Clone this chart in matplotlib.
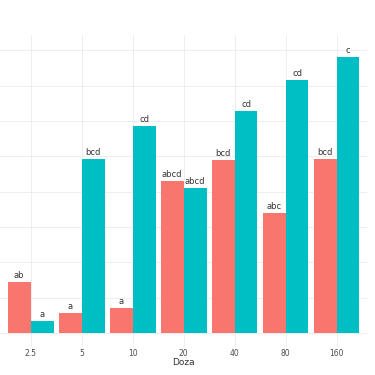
import numpy as np
import matplotlib.pyplot as plt

# data (y axis is cropped, units arbitrary)
doses = ['2.5', '5', '10', '20', '40', '80', '160']
red_vals = [14.4, 5.7, 7.1, 43.1, 49.0, 34.0, 49.3]
blue_vals = [3.4, 49.3, 58.6, 41.1, 62.9, 71.7, 78.2]
red_labels = ['ab', 'a', 'a', 'abcd', 'bcd', 'abc', 'bcd']
blue_labels = ['a', 'bcd', 'cd', 'abcd', 'cd', 'cd', 'c']

red = '#F8766D'
blue = '#00BFC4'

fig = plt.figure(figsize=(3.75, 3.75), dpi=100)
ax = fig.add_axes([0.0, 0.075, 0.979, 0.832])

x = np.arange(1, len(doses) + 1)
w = 0.45
ax.bar(x - w/2, red_vals, width=w, color=red, zorder=2)
ax.bar(x + w/2, blue_vals, width=w, color=blue, zorder=2)

for xi, v, t in zip(x - w/2, red_vals, red_labels):
    ax.text(xi, v + 0.6, t, ha='center', va='bottom', fontsize=6, color='#333333')
for xi, v, t in zip(x + w/2, blue_vals, blue_labels):
    ax.text(xi, v + 0.6, t, ha='center', va='bottom', fontsize=6, color='#333333')

ax.set_xlim(0.4, 7.6)
ax.set_ylim(-3.97, 84.4)
ax.set_xticks(x)
ax.set_xticklabels(doses)
ax.set_yticks(np.arange(0, 81, 10))
ax.set_yticklabels([])
ax.tick_params(axis='both', length=0, labelsize=5.5, labelcolor='#4D4D4D', pad=1.5)
ax.tick_params(axis='y', left=False, labelleft=False)
ax.grid(True, color='#EBEBEB', linewidth=0.6, zorder=0)
ax.set_axisbelow(True)
for s in ax.spines.values():
    s.set_visible(False)
ax.set_xlabel('Doza', fontsize=6.5, color='#333333', labelpad=0)

fig.savefig('out.png', dpi=100)
